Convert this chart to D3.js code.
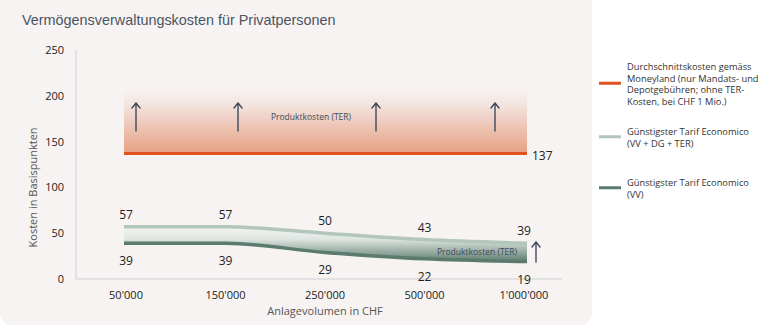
<!DOCTYPE html>
<html>
<head>
<meta charset="utf-8">
<script src="https://cdn.jsdelivr.net/npm/d3@7/dist/d3.min.js"></script>
<style>
  body { margin: 0; background: #ffffff; }
  svg { display: block; font-family: "Open Sans", "Noto Sans", sans-serif; }
</style>
</head>
<body>
<svg id="chart" width="780" height="328"></svg>
<script>
// Anlagevolumen (CHF) categories
const categories = ["50'000", "150'000", "250'000", "500'000", "1'000'000"];
// Average cost according to Moneyland (bp)
const averageCost = [137, 137, 137, 137, 137];
// Cheapest Economico tariff incl. VV + DG + TER (bp)
const economicoTotal = [57, 57, 50, 43, 39];
// Cheapest Economico tariff VV only (bp)
const economicoVV = [39, 39, 29, 22, 19];
// Upper edge of the product cost band above the average line (bp)
const terBandTop = 217;
const yTicks = [0, 50, 100, 150, 200, 250];
const legendItems = [
  { color: "#e0521f", lines: ["Durchschnittskosten gemäss", "Moneyland (nur Mandats- und", "Depotgebühren; ohne TER-", "Kosten, bei CHF 1 Mio.)"] },
  { color: "#b3c6be", lines: ["Günstigster Tarif Economico", "(VV + DG + TER)"] },
  { color: "#5b7b6f", lines: ["Günstigster Tarif Economico", "(VV)"] }
];

const svg = d3.select("#chart");
const defs = svg.append("defs");

// Panel background
svg.append("rect").attr("x", 0).attr("y", -12).attr("width", 592).attr("height", 337)
  .attr("rx", 11).attr("fill", "#f7f3f2");

svg.append("text").attr("x", 22).attr("y", 25)
  .attr("font-size", 14.4).attr("fill", "#4a5563")
  .attr("font-family", "Helvetica, 'Liberation Sans', Arial, sans-serif")
  .text("Vermögensverwaltungskosten für Privatpersonen");

const x = d3.scalePoint().domain(categories).range([126, 524]);
const y = d3.scaleLinear().domain([0, 250]).range([279, 50]);
const xLineStart = 124, xLineEnd = 527;

// Axes
svg.append("line").attr("x1", 76).attr("x2", 76).attr("y1", y(250)).attr("y2", y(0))
  .attr("stroke", "#cfcfcf").attr("stroke-width", 1);
svg.append("line").attr("x1", 76).attr("x2", 562).attr("y1", y(0)).attr("y2", y(0))
  .attr("stroke", "#cfcfcf").attr("stroke-width", 1);

svg.append("g").selectAll("text").data(yTicks).join("text")
  .attr("x", 64).attr("y", d => y(d) + 4).attr("text-anchor", "end")
  .attr("font-size", 11).attr("fill", "#222").text(d => d);

svg.append("g").selectAll("text").data(categories).join("text")
  .attr("x", d => x(d)).attr("y", 299).attr("text-anchor", "middle")
  .attr("font-size", 11).attr("fill", "#222").text(d => d);

svg.append("text").attr("x", 325).attr("y", 315).attr("text-anchor", "middle")
  .attr("font-size", 11).attr("fill", "#555").text("Anlagevolumen in CHF");
svg.append("text").attr("transform", `translate(37,${y(100)}) rotate(-90)`)
  .attr("text-anchor", "middle").attr("font-size", 11).attr("fill", "#555")
  .text("Kosten in Basispunkten");

// Product cost band above the average line
const orangeGrad = defs.append("linearGradient").attr("id", "terOrange")
  .attr("x1", 0).attr("y1", 0).attr("x2", 0).attr("y2", 1);
orangeGrad.append("stop").attr("offset", "0%").attr("stop-color", "#f7f3f2").attr("stop-opacity", 0);
orangeGrad.append("stop").attr("offset", "35%").attr("stop-color", "#f3e2dc").attr("stop-opacity", 1);
orangeGrad.append("stop").attr("offset", "100%").attr("stop-color", "#e6a083");
svg.append("rect").attr("x", xLineStart).attr("width", xLineEnd - xLineStart)
  .attr("y", y(terBandTop)).attr("height", y(averageCost[0]) - y(terBandTop))
  .attr("fill", "url(#terOrange)");

svg.append("line").attr("x1", xLineStart).attr("x2", xLineEnd)
  .attr("y1", y(averageCost[0])).attr("y2", y(averageCost[4]))
  .attr("stroke", "#e0521f").attr("stroke-width", 3);
svg.append("text").attr("x", 532).attr("y", y(averageCost[4]) + 6)
  .attr("font-size", 12).attr("fill", "#222").text(averageCost[4]);

// Upward arrows marking the product costs
function upArrow(g, ax, yBottom, yTop) {
  g.append("path")
    .attr("d", `M${ax},${yBottom} L${ax},${yTop} M${ax - 4},${yTop + 5} L${ax},${yTop} L${ax + 4},${yTop + 5}`)
    .attr("fill", "none").attr("stroke", "#3d4a5c").attr("stroke-width", 1.4)
    .attr("stroke-linecap", "round").attr("stroke-linejoin", "round");
}
const arrowXs = [136, 238, 376, 495];
const arrows = svg.append("g");
arrowXs.forEach(ax => upArrow(arrows, ax, 131, 103));
svg.append("text").attr("x", 311).attr("y", 120).attr("text-anchor", "middle")
  .attr("font-size", 8.5).attr("fill", "#3d4a5c").text("Produktkosten (TER)");

// Economico band between VV and VV + DG + TER
const xs = categories.map((c, i) => i === 0 ? xLineStart : (i === categories.length - 1 ? xLineEnd : x(c)));
const upperPts = economicoTotal.map((v, i) => [xs[i], y(v)]);
const lowerPts = economicoVV.map((v, i) => [xs[i], y(v)]);
const greenGrad = defs.append("linearGradient").attr("id", "terGreen")
  .attr("gradientUnits", "userSpaceOnUse")
  .attr("x1", 0).attr("y1", y(57)).attr("x2", 0).attr("y2", y(19));
greenGrad.append("stop").attr("offset", "0%").attr("stop-color", "#f2f4f1");
greenGrad.append("stop").attr("offset", "35%").attr("stop-color", "#dfe6e2");
greenGrad.append("stop").attr("offset", "100%").attr("stop-color", "#5f7d71");

const area = d3.area().x(d => d[0]).y0(d => d[1]).y1(d => d[2]).curve(d3.curveMonotoneX);
svg.append("path")
  .attr("d", area(upperPts.map((p, i) => [p[0], lowerPts[i][1], p[1]])))
  .attr("fill", "url(#terGreen)");

const line = d3.line().curve(d3.curveMonotoneX);
svg.append("path").attr("d", line(upperPts)).attr("fill", "none")
  .attr("stroke", "#b3c6be").attr("stroke-width", 3.5);
svg.append("path").attr("d", line(lowerPts)).attr("fill", "none")
  .attr("stroke", "#5b7b6f").attr("stroke-width", 3.5);

svg.append("g").selectAll("text").data(economicoTotal).join("text")
  .attr("x", (d, i) => x(categories[i])).attr("y", d => y(d) - 8)
  .attr("text-anchor", "middle").attr("font-size", 12).attr("fill", "#222").text(d => d);
svg.append("g").selectAll("text").data(economicoVV).join("text")
  .attr("x", (d, i) => x(categories[i])).attr("y", d => y(d) + 22)
  .attr("text-anchor", "middle").attr("font-size", 12).attr("fill", "#222").text(d => d);

svg.append("text").attr("x", 477).attr("y", 255).attr("text-anchor", "middle")
  .attr("font-size", 8.5).attr("fill", "#3d4a5c").text("Produktkosten (TER)");
upArrow(svg, 536, 262, 242);

// Legend
const legendTops = [67, 132, 183];
const lg = svg.append("g");
legendItems.forEach((item, k) => {
  const top = legendTops[k];
  const mid = top + (item.lines.length - 1) * 11.5 / 2 - 1;
  lg.append("line").attr("x1", 599).attr("x2", 621).attr("y1", mid).attr("y2", mid)
    .attr("stroke", item.color).attr("stroke-width", 3);
  item.lines.forEach((t, j) => {
    lg.append("text").attr("x", 627).attr("y", top + j * 11.5 + 3)
      .attr("font-size", 9.3).attr("fill", "#333").text(t);
  });
});
</script>
</body>
</html>
